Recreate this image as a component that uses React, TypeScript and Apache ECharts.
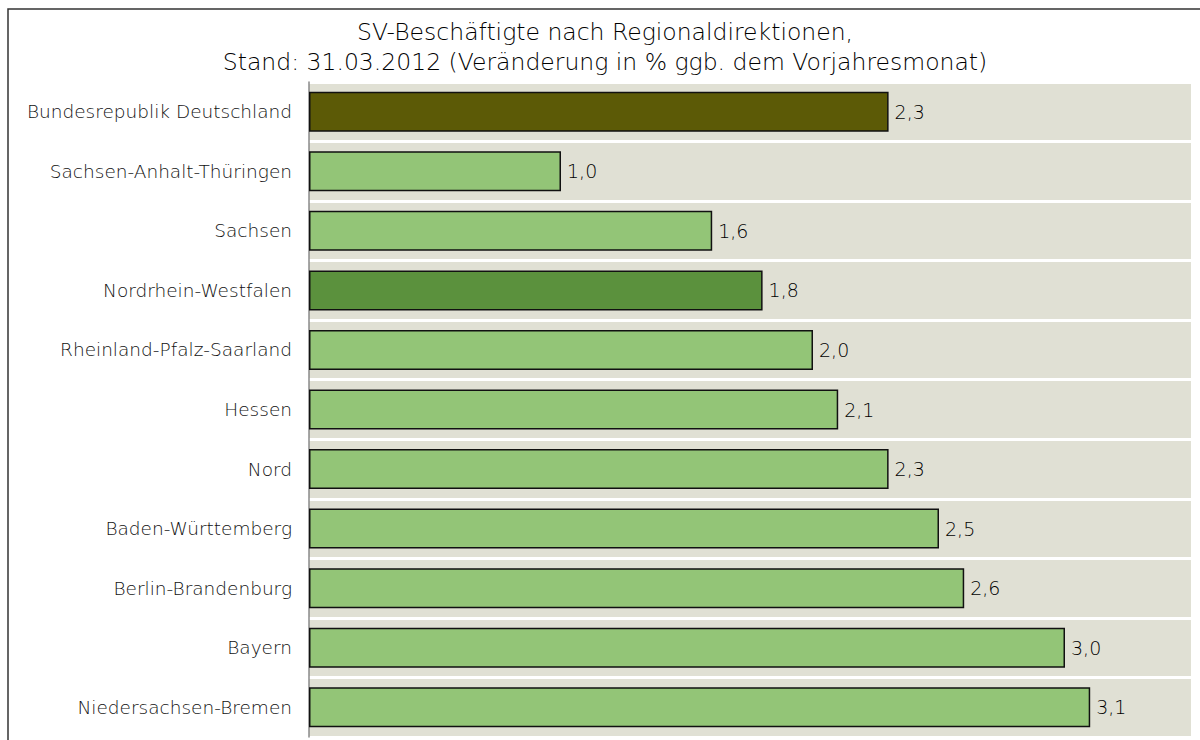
import React, { useEffect, useRef } from "react";
import * as echarts from "echarts";

const categories = [
  "Bundesrepublik Deutschland",
  "Sachsen-Anhalt-Thüringen",
  "Sachsen",
  "Nordrhein-Westfalen",
  "Rheinland-Pfalz-Saarland",
  "Hessen",
  "Nord",
  "Baden-Württemberg",
  "Berlin-Brandenburg",
  "Bayern",
  "Niedersachsen-Bremen",
];
const values = [2.3, 1.0, 1.6, 1.8, 2.0, 2.1, 2.3, 2.5, 2.6, 3.0, 3.1];
const barColors = [
  "#5c5a06",
  "#93c577",
  "#93c577",
  "#5b913d",
  "#93c577",
  "#93c577",
  "#93c577",
  "#93c577",
  "#93c577",
  "#93c577",
  "#93c577",
];
const titleLines = [
  "SV-Beschäftigte nach Regionaldirektionen,",
  "Stand: 31.03.2012 (Veränderung in % ggb. dem Vorjahresmonat)",
];

const FONT = "'DejaVu Sans', sans-serif";

export default function App() {
  const ref = useRef<HTMLDivElement>(null);
  useEffect(() => {
    if (!ref.current) return;
    const chart = echarts.init(ref.current, undefined, { renderer: "svg" });
    chart.setOption({
      animation: false,
      backgroundColor: "#ffffff",
      textStyle: { fontFamily: FONT },
      title: {
        text: titleLines.join("\n"),
        left: 600,
        textAlign: "center",
        top: 12,
        textStyle: {
          fontFamily: FONT,
          fontSize: 23.5,
          fontWeight: 200,
          color: "#000000",
          lineHeight: 30,
        },
      },
      graphic: [
        {
          type: "rect",
          shape: { x: 8, y: 9, width: 1250, height: 800 },
          style: { fill: "none", stroke: "#333333", lineWidth: 1.5 },
          z: 100,
        },
      ],
      grid: { left: 309, top: 82, width: 882, height: 655, containLabel: false },
      xAxis: {
        type: "value",
        min: 0,
        max: 3.5,
        show: false,
        splitLine: { show: false },
      },
      yAxis: {
        type: "category",
        data: categories,
        inverse: true,
        axisLine: { show: true, lineStyle: { color: "#8a8a8a", width: 1.5 } },
        axisTick: { show: false },
        axisLabel: {
          fontFamily: FONT,
          fontSize: 18.5,
          fontWeight: 200,
          color: "#111111",
          margin: 17,
        },
        splitArea: { show: true, areaStyle: { color: ["#e0e0d4"] } },
        splitLine: { show: true, lineStyle: { color: "#ffffff", width: 3 } },
      },
      series: [
        {
          type: "bar",
          data: values.map((v, i) => ({
            value: v,
            itemStyle: { color: barColors[i] },
          })),
          barWidth: 40,
          itemStyle: { borderColor: "#111111", borderWidth: 1.5 },
          label: {
            show: true,
            position: "right",
            distance: 6,
            fontFamily: FONT,
            fontSize: 19,
            fontWeight: 200,
            color: "#000000",
            formatter: (p: any) => p.value.toFixed(1).replace(".", ","),
          },
        },
      ],
    });
    return () => chart.dispose();
  }, []);
  return (
    <div
      ref={ref}
      style={{ position: "fixed", left: 0, top: 0, width: 1200, height: 740 }}
    />
  );
}
